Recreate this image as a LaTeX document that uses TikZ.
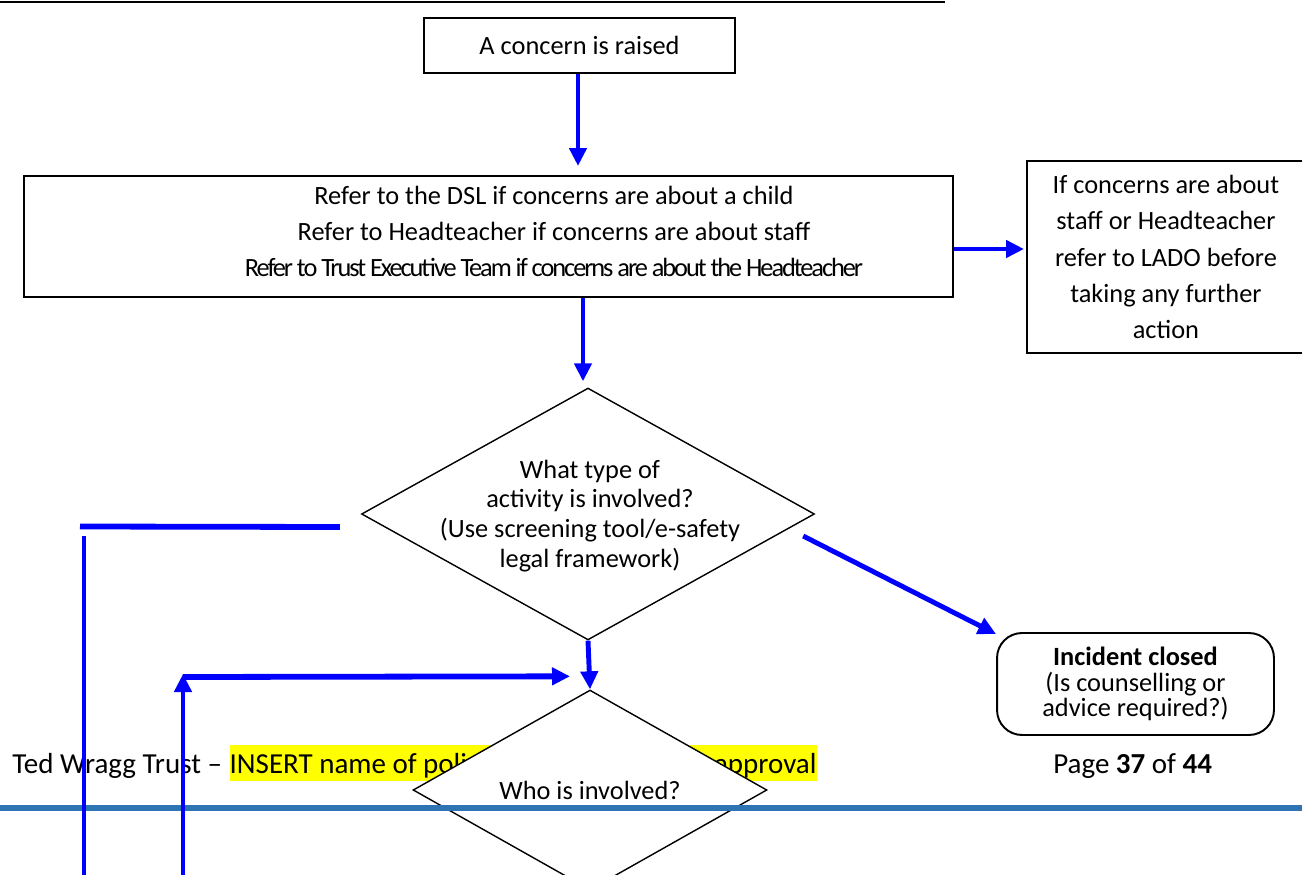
\documentclass[tikz,border=0pt]{standalone}
\usepackage{fontspec}
\setmainfont{Carlito}
\usepackage{tikz}
\usetikzlibrary{calc}
\usetikzlibrary{positioning}
\usetikzlibrary{shapes.geometric}
\usetikzlibrary{arrows.meta}
\definecolor{flowblue}{RGB}{0,0,255}
\definecolor{footerblue}{RGB}{46,116,181}
\definecolor{markyellow}{RGB}{255,255,0}
\tikzstyle{flowbox} = [draw, line width=1.1pt, fill=white, inner sep=0pt, align=center, font=\fontsize{15}{20.5}\selectfont]
\tikzstyle{flowtext} = [inner sep=0pt, align=center, font=\fontsize{15}{20.5}\selectfont]
\tikzstyle{decision} = [draw, diamond, aspect=1.8, line width=0.8pt, fill=white, inner sep=0pt, font=\fontsize{15}{17}\selectfont]
\tikzstyle{roundbox} = [draw, rounded corners=0.5cm, line width=1.1pt, fill=white, inner sep=0pt, align=center, font=\fontsize{15}{14.5}\selectfont]
\tikzstyle{flowarrow} = [draw=flowblue, line width=2.8pt, -{Triangle[length=0.36cm, width=0.34cm]}]
\tikzstyle{flowline} = [draw=flowblue, line width=2.8pt]
\tikzstyle{footertext} = [inner sep=0pt, font=\fontsize{16.5}{20}\selectfont]

\begin{document}
\begin{tikzpicture}[x=0.02cm, y=-0.02cm]
    \useasboundingbox (0,0) rectangle (1302,875);
    \fill[white] (0,0) rectangle (1302,875);
    \draw[line width=1.1pt] (0,2) -- (945,2);

    % footer of the page
    \node[footertext, anchor=base west] (footer_left) at (12,773) {Ted Wragg Trust –\kern4pt};
    \node[footertext, fill=markyellow, anchor=base west, text height=15.9pt, text depth=4.5pt] (footer_mark) at (footer_left.base east) {\makebox[11.74cm][l]{INSERT name of policy and date of\hfill approval}};
    \node[footertext, anchor=base west] (footer_page) at (1053,773) {Page \textbf{37} of \textbf{44}};

    \node[flowbox, minimum width=6.22cm, minimum height=1.1cm] (concern_raised) at (579.5,45.5) {A concern is raised};
    \node[flowbox, minimum width=18.58cm, minimum height=2.42cm] (refer_box) at (488.5,236.5) {};
    \node[flowtext] (refer_text) at ($(refer_box.center)+(65.5,-5)$) {Refer to the DSL if concerns are about a child\\Refer to Headteacher if concerns are about staff\\{\addfontfeature{LetterSpace=-7.8}Refer to Trust Executive Team if concerns are about the Headteacher}};
    \node[flowbox, minimum width=5.56cm, minimum height=3.84cm, anchor=north west] (lado_box) at (1026,160) {If concerns are about\\staff or Headteacher\\refer to LADO before\\taking any further\\action};

    \node[decision, minimum width=9.06cm, minimum height=5.04cm] (type_diamond) at (588,514) {};
    \node[flowtext, font=\fontsize{15}{17}\selectfont] (type_text) at ($(type_diamond.center)+(2,2)$) {What type of\\activity is involved?\\(Use screening tool/e-safety\\legal framework)};
    \node[roundbox, minimum width=5.54cm, minimum height=2.04cm] (closed_box) at (1135.5,684) {\textbf{Incident closed}\\(Is counselling or\\advice required?)};
    \node[decision, minimum width=7.08cm, minimum height=4cm] (who_diamond) at (590,790) {Who is involved?};

    \fill[footerblue] (0,805) rectangle (1302,811);

    \coordinate (left_corner) at (80,526.5);
    \coordinate (left_end) at (84,880);
    \coordinate (right_end) at (183,880);

    \draw[flowarrow] (concern_raised.south -| 578,0) -- ($(concern_raised.south -| 578,0)!1!(578,166)$);
    \draw[flowarrow] ($(type_diamond.north |- refer_box.south)+(-5,0)$) -- ($(type_diamond.north)+(-5,-6)$);
    \draw[flowarrow] ($(refer_box.east)+(0,12.5)$) -- ($(refer_box.east -| lado_box.west)+(-2,12.5)$);
    \draw[flowline, line width=3.3pt] ($(type_diamond.west)+(-21,13)$) -- (left_corner);
    \draw[flowline] (84,536) -- (left_end);
    \draw[flowarrow] ($(type_diamond.east)+(-12,22)$) -- ($(closed_box.north west)+(0,2)$);
    \draw[flowarrow] (type_diamond.south) -- (who_diamond.north);
    \draw[flowarrow] (right_end) -- (183,674);
    \draw[flowarrow, line width=3.3pt] (183,677) -- ($(who_diamond.north)+(-20,-13)$);
\end{tikzpicture}
\end{document}
